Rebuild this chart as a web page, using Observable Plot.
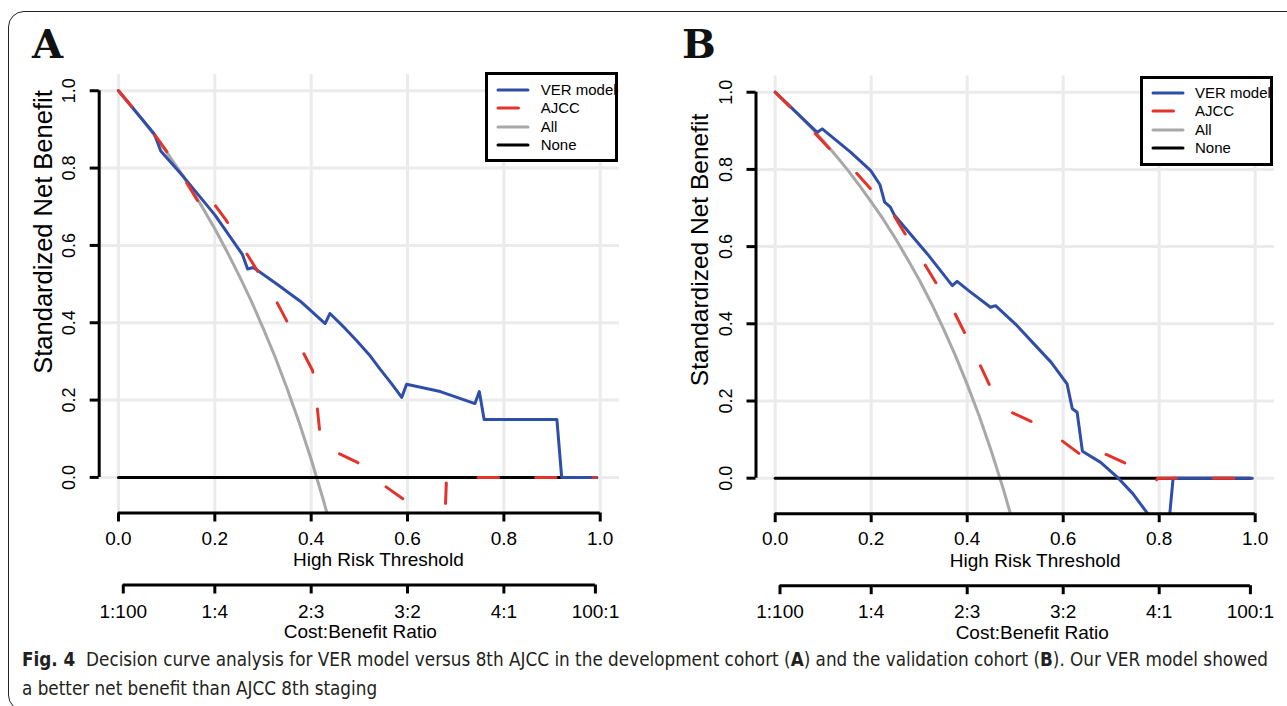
<!DOCTYPE html>
<html><head><meta charset="utf-8">
<script src="https://cdn.jsdelivr.net/npm/d3@7"></script>
<script src="https://cdn.jsdelivr.net/npm/@observablehq/plot@0.6"></script>
<style>
html,body{margin:0;padding:0;background:#fff;width:1287px;height:706px;overflow:hidden;}
#root{position:relative;width:1287px;height:706px;font-family:"Liberation Sans",Arial,Helvetica,sans-serif;}
.panel{position:absolute;top:0;}
.frame{position:absolute;left:8px;top:11px;width:1400px;height:700px;border:1.5px solid #222;border-radius:16px;box-sizing:border-box;}
.tag{position:absolute;font-family:"DejaVu Serif",serif;font-weight:bold;font-size:40px;line-height:40px;color:#111;}
.ytitle{position:absolute;white-space:nowrap;line-height:1;transform:translate(-50%,-50%) rotate(-90deg);color:#000;}
.legend{position:absolute;border:3px solid #000;background:#fff;overflow:hidden;box-sizing:border-box;font-size:15px;}
.legend .row{position:absolute;left:0;height:18px;white-space:nowrap;}
.legend svg{position:absolute;top:0;}
.legend span{position:absolute;top:0;line-height:18px;}
#cap{position:absolute;left:22px;top:645px;font-family:"Liberation Sans Narrow","DejaVu Sans Condensed",sans-serif;font-size:20px;line-height:29px;color:#231f20;white-space:nowrap;transform-origin:0 0;}
</style></head>
<body><div id="root"><div class="frame"></div></div>
<script>
// ---------- data ----------
const thresholdTicks = [0, 0.2, 0.4, 0.6, 0.8, 1.0];
const netBenefitTicks = [0, 0.2, 0.4, 0.6, 0.8, 1.0];
const costBenefitPos = [0.01, 0.2, 0.4, 0.6, 0.8, 0.99];
const costBenefitLabels = ["1:100", "1:4", "2:3", "3:2", "4:1", "100:1"];
const seriesNames = ["VER model", "AJCC", "All", "None"];
const seriesColors = ["#2f4ea8", "#e3342b", "#a8a8a8", "#000000"];
const panelTags = ["A", "B"];

const allX = [0, 0.025, 0.05, 0.075, 0.1, 0.125, 0.15, 0.175, 0.2, 0.225, 0.25, 0.275, 0.3, 0.325, 0.35, 0.375, 0.4, 0.425, 0.45, 0.475, 0.5];
const allA = [1, 0.963, 0.925, 0.884, 0.841, 0.796, 0.748, 0.697, 0.643, 0.585, 0.523, 0.458, 0.387, 0.312, 0.230, 0.142, 0.047, -0.057, -0.170, -0.294, -0.43];
const allB = [1, 0.971, 0.940, 0.908, 0.874, 0.838, 0.800, 0.759, 0.716, 0.671, 0.622, 0.569, 0.514, 0.454, 0.389, 0.319, 0.243, 0.161, 0.071, -0.027, -0.135];

const noneX = [0, 0.99];
const noneY = [0, 0];

const verAX = [0, 0.0744, 0.0878, 0.136, 0.2, 0.2575, 0.268, 0.28, 0.33, 0.378, 0.429, 0.439, 0.47, 0.495, 0.52, 0.543, 0.566, 0.588, 0.598, 0.668, 0.74, 0.749, 0.759, 0.91, 0.92, 0.993];
const verAY = [1, 0.888, 0.844, 0.776, 0.679, 0.576, 0.539, 0.543, 0.499, 0.455, 0.398, 0.424, 0.386, 0.353, 0.318, 0.28, 0.244, 0.207, 0.241, 0.222, 0.191, 0.222, 0.15, 0.15, 0, 0];

const ajccAX = [0, 0.0298, 0.0744, 0.102, 0.142, 0.166, 0.18, 0.183, 0.198, 0.223, 0.261, 0.287, 0.325, 0.347, 0.381, 0.403, 0.412, 0.417, 0.421, 0.452, 0.496, 0.547, 0.588, 0.63, 0.672, 0.676, 0.681, 0.99];
const ajccAY = [1, 0.956, 0.888, 0.840, 0.761, 0.712, 0.69, 0.722, 0.708, 0.666, 0.589, 0.537, 0.462, 0.41, 0.329, 0.276, 0.188, 0.128, 0.08, 0.065, 0.039, -0.017, -0.053, -0.09, -0.15, -0.16, 0, 0];

const verBX = [0, 0.0875, 0.098, 0.157, 0.199, 0.218, 0.228, 0.24, 0.2485, 0.317, 0.369, 0.379, 0.403, 0.4485, 0.459, 0.5, 0.539, 0.575, 0.608, 0.619, 0.629, 0.64, 0.678, 0.7125, 0.745, 0.775, 0.817, 0.829, 0.994];
const verBY = [1, 0.896, 0.905, 0.845, 0.797, 0.761, 0.715, 0.702, 0.681, 0.581, 0.499, 0.51, 0.486, 0.443, 0.447, 0.4, 0.348, 0.30, 0.2445, 0.18, 0.171, 0.07, 0.041, 0.003, -0.04, -0.09, -0.16, 0, 0];

const ajccBX = [0, 0.0333, 0.084, 0.1167, 0.169, 0.1985, 0.2485, 0.2715, 0.313, 0.336, 0.3756, 0.3965, 0.429, 0.4485, 0.4917, 0.533, 0.5965, 0.634, 0.648, 0.65, 0.6917, 0.7367, 0.794, 0.797, 0.99];
const ajccBY = [1, 0.959, 0.892, 0.849, 0.791, 0.75, 0.678, 0.631, 0.551, 0.504, 0.424, 0.372, 0.2876, 0.2358, 0.171, 0.147, 0.0977, 0.063, 0.05, 0.072, 0.0606, 0.0347, -0.006, 0, 0];

const xTitle = "High Risk Threshold";
const xTitle2 = "Cost:Benefit Ratio";
const yTitle = "Standardized Net Benefit";

// ---------- layout ----------
const xDomain = [-0.04, 1.04];
const yDomain = [-0.092, 1.042];
const dash = "20.5,37";
const sans = '"Liberation Sans", Arial, Helvetica, sans-serif';
const costMap = new Map(costBenefitPos.map((p, i) => [p, costBenefitLabels[i]]));

function panel(cfg) {
  const H = 650;
  return Plot.plot({
    width: cfg.width, height: H,
    marginLeft: cfg.ml, marginRight: cfg.mr, marginTop: cfg.mt, marginBottom: H - cfg.bottom,
    x: {domain: xDomain, axis: null},
    y: {domain: yDomain, axis: null},
    style: {fontFamily: sans, fontSize: "19px", color: "#000", background: "none", overflow: "visible"},
    marks: [
      Plot.gridX(thresholdTicks, {stroke: "#ebebeb", strokeOpacity: 1, strokeWidth: 3}),
      Plot.gridY(netBenefitTicks, {stroke: "#ebebeb", strokeOpacity: 1, strokeWidth: 3}),
      Plot.line(allX, {x: allX, y: cfg.all, stroke: seriesColors[2], strokeWidth: 3, clip: true}),
      Plot.line(noneX, {x: noneX, y: noneY, stroke: seriesColors[3], strokeWidth: 3, clip: true}),
      Plot.line(cfg.vx, {x: cfg.vx, y: cfg.vy, stroke: seriesColors[0], strokeWidth: 3, clip: true}),
      Plot.line(cfg.ax, {x: cfg.ax, y: cfg.ay, stroke: seriesColors[1], strokeWidth: 3, strokeDasharray: dash, clip: true}),
      Plot.ruleX([xDomain[0]], {y1: netBenefitTicks[0], y2: netBenefitTicks[netBenefitTicks.length - 1], strokeWidth: 3}),
      Plot.ruleY([yDomain[0]], {x1: thresholdTicks[0], x2: thresholdTicks[thresholdTicks.length - 1], strokeWidth: 3}),
      Plot.ruleY([yDomain[0]], {x1: costBenefitPos[0], x2: costBenefitPos[costBenefitPos.length - 1], strokeWidth: 3, dy: 72}),
      Plot.axisY(netBenefitTicks, {tickFormat: d3.format(".1f"), tickSize: 9, strokeWidth: 3, tickRotate: -90, lineAnchor: "middle", tickPadding: 20.5, fontSize: 18, label: null}),
      Plot.axisX(thresholdTicks, {tickFormat: d3.format(".1f"), tickSize: 9, strokeWidth: 3, tickPadding: 9, fontSize: 19, label: null}),
      Plot.axisX(costBenefitPos, {tickFormat: d => costMap.get(d), tickSize: 9, strokeWidth: 3, tickPadding: 10, fontSize: 19, dy: 72, label: null}),
      Plot.text([xTitle], {text: d => d, frameAnchor: "bottom", dy: 53, dx: cfg.xtDx, fontSize: 19}),
      Plot.text([xTitle2], {text: d => d, frameAnchor: "bottom", dy: 125, dx: cfg.xt2Dx, fontSize: 19})
    ]
  });
}

const root = document.getElementById("root");
const cfgs = [
  {left: 0, width: 650, ml: 98.7, mr: 31, mt: 74, bottom: 512.5, all: allA, vx: verAX, vy: verAY, ax: ajccAX, ay: ajccAY,
   xtDx: 19, xt2Dx: 1, yt: {x: 44, y: 232, size: 25.5}, tagX: 32, tagY: 24,
   leg: {left: 485, top: 71.7, w: 133.3, h: 90.6, y0: 18.3, lx: 13, tx: 55.7}},
  {left: 650, width: 637, ml: 105.5, mr: 13.1, mt: 75.5, bottom: 513.2, all: allB, vx: verBX, vy: verBY, ax: ajccBX, ay: ajccBY,
   xtDx: 20, xt2Dx: 17, yt: {x: 700, y: 250, size: 24.5}, tagX: 682, tagY: 24,
   leg: {left: 1140, top: 76.3, w: 132.7, h: 90, y0: 16.7, lx: 12.7, tx: 55}}
];

cfgs.forEach((c, k) => {
  const div = document.createElement("div");
  div.className = "panel";
  div.style.left = c.left + "px";
  div.appendChild(panel(c));
  root.appendChild(div);

  const yt = document.createElement("div");
  yt.className = "ytitle";
  Object.assign(yt.style, {left: c.yt.x + "px", top: c.yt.y + "px", fontSize: c.yt.size + "px"});
  yt.textContent = yTitle;
  root.appendChild(yt);

  const tag = document.createElement("div");
  tag.className = "tag";
  tag.style.left = c.tagX + "px";
  tag.style.top = c.tagY + "px";
  tag.textContent = panelTags[k];
  root.appendChild(tag);

  const leg = document.createElement("div");
  leg.className = "legend";
  Object.assign(leg.style, {left: c.leg.left + "px", top: c.leg.top + "px", width: c.leg.w + "px", height: c.leg.h + "px"});
  seriesNames.forEach((name, i) => {
    const row = document.createElement("div");
    row.className = "row";
    row.style.top = (c.leg.y0 + i * 18.3 - 9 - 3) + "px";
    const len = 30;
    row.innerHTML = `<svg width="${len + 4}" height="18" style="left:${c.leg.lx - 3 - 2}px"><line x1="2" x2="${len + 2}" y1="9" y2="9" stroke="${seriesColors[i]}" stroke-width="3" stroke-linecap="round" ${i === 1 ? `stroke-dasharray="${dash}"` : ""}/></svg><span style="left:${c.leg.tx - 3}px">${name}</span>`;
    leg.appendChild(row);
  });
  root.appendChild(leg);
});

const cap = document.createElement("div");
cap.id = "cap";
cap.innerHTML = `<span id="l1"><b>Fig. 4</b>&nbsp; Decision curve analysis for VER model versus 8th AJCC in the development cohort (<b>A</b>) and the validation cohort (<b>B</b>). Our VER model showed</span><br>a better net benefit than AJCC 8th staging`;
root.appendChild(cap);
const w1 = document.getElementById("l1").getBoundingClientRect().width;
cap.style.transform = `scaleX(${1246 / w1})`;
</script>
</body></html>
